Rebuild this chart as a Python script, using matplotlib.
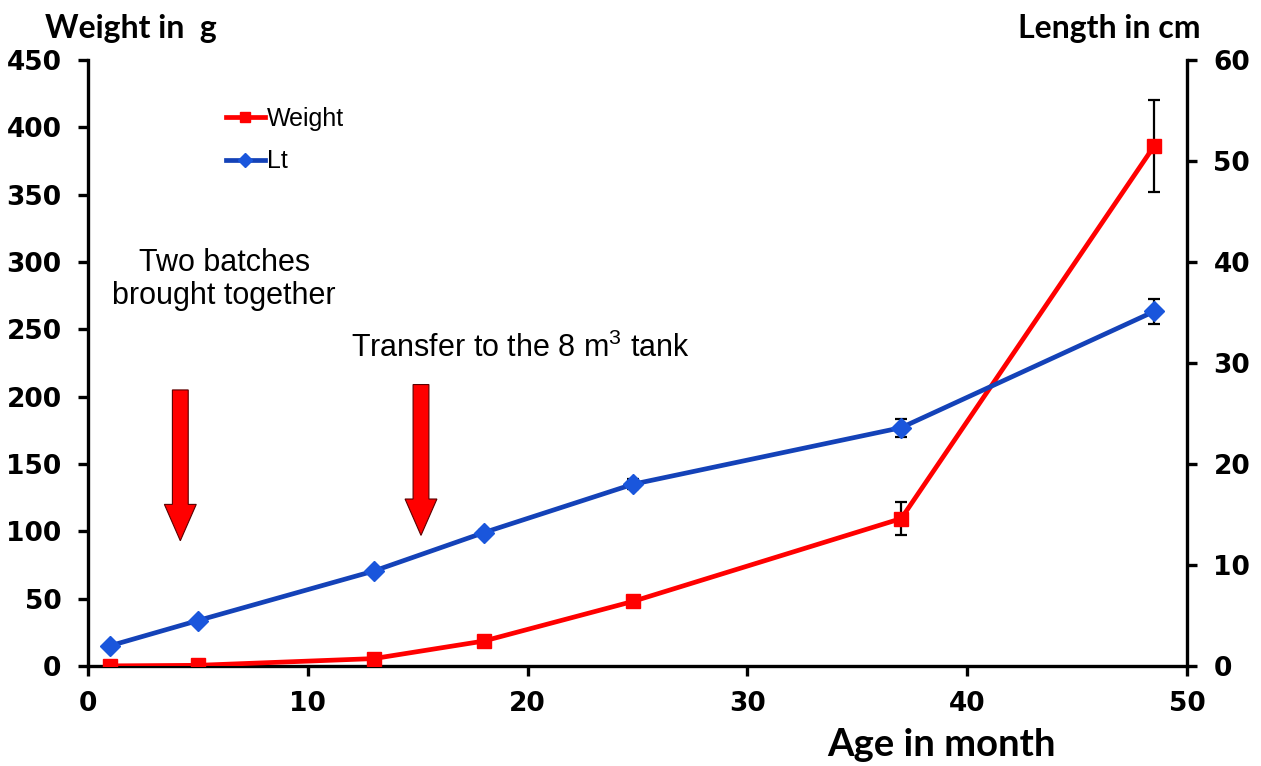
import numpy as np
import matplotlib
matplotlib.use("Agg")
import matplotlib.pyplot as plt
from matplotlib.lines import Line2D

# Data
age = [1, 5, 13, 18, 24.8, 37, 48.5]
weight = [0.1, 0.5, 5.5, 18.5, 48, 109.5, 386]
weight_err = [0, 0.3, 1, 1.5, 3, 12.5, 34]
length = [2.0, 4.5, 9.4, 13.2, 18.0, 23.6, 35.1]
length_err = [0, 0.1, 0.2, 0.3, 0.5, 0.9, 1.2]

x_ticks = [0, 10, 20, 30, 40, 50]
w_ticks = [0, 50, 100, 150, 200, 250, 300, 350, 400, 450]
l_ticks = [0, 10, 20, 30, 40, 50, 60]

arrow_x = [4.2, 15.15]
arrow_top = [205, 209]
arrow_tip = [93, 97]

plt.rcParams['font.family'] = ['Liberation Sans', 'DejaVu Sans']
plt.rcParams['mathtext.default'] = 'regular'

red = '#FF0000'
blue_line = '#1442B8'
blue_mark = '#1A56DC'

fig = plt.figure(figsize=(12.61, 7.66), dpi=100)
ax = fig.add_axes([88 / 1261, 100 / 766, (1187 - 88) / 1261, (666 - 60) / 766])
ax2 = ax.twinx()

# weight series on the left axis
ax.errorbar(age, weight, yerr=weight_err, color=red, lw=3.4, marker='s', ms=9.5,
            mfc=red, mec=red, ecolor='black', elinewidth=1.6, capsize=4.5,
            capthick=1.6, zorder=3)
# length series on the right axis
ax2.errorbar(age, length, yerr=length_err, color=blue_line, lw=3.4, marker='D', ms=10,
             mfc=blue_mark, mec=blue_mark, ecolor='black', elinewidth=1.6, capsize=4.5,
             capthick=1.6, zorder=3)

ax.set_xlim(0, 50)
ax.set_ylim(0, 450)
ax2.set_ylim(0, 60)
ax.set_xticks(x_ticks)
ax.set_yticks(w_ticks)
ax2.set_yticks(l_ticks)

for a in (ax, ax2):
    a.spines['top'].set_visible(False)
    for s in a.spines.values():
        s.set_linewidth(2.4)
    a.tick_params(width=2.4, length=7, labelsize=19, direction='out', pad=12)
    for lab in a.get_xticklabels() + a.get_yticklabels():
        lab.set_fontweight('bold')
        lab.set_family('DejaVu Sans')
ax2.spines['left'].set_visible(False)
ax2.spines['bottom'].set_visible(False)
ax.spines['right'].set_visible(False)
ax.tick_params(axis='x', pad=11)

# arrows
for xa, yt, yb in zip(arrow_x, arrow_top, arrow_tip):
    ax.arrow(xa, yt, 0, yb - yt, width=0.72, head_width=1.45, head_length=27,
             length_includes_head=True, fc=red, ec='#5a0000', lw=0.8, zorder=2)

ax.text(6.2, 287, "Two batches\nbrought together", ha='center', va='center',
        fontsize=22, linespacing=1.12)
ax.text(11.95, 236, "Transfer to the 8 m$^3$ tank", ha='left', va='center', fontsize=22)

# legend
handles = [Line2D([], [], color=red, lw=3.4, marker='s', ms=7, mfc=red, mec=red),
           Line2D([], [], color=blue_line, lw=3.4, marker='D', ms=7, mfc=blue_mark, mec=blue_mark)]
ax2.legend(handles, ['Weight', 'Lt'], loc='upper left', bbox_to_anchor=(0.105, 0.96),
           frameon=False, fontsize=18, handlelength=1.55, handletextpad=0.1,
           labelspacing=0.75)

fig.text(45 / 1261, 1 - 38 / 766, "Weight in  g", family=['Lato', 'DejaVu Sans'],
         fontweight='bold', fontsize=23, va='baseline', ha='left')
fig.text(1200 / 1261, 1 - 38 / 766, "Length in cm", family=['Lato', 'DejaVu Sans'],
         fontweight='bold', fontsize=23, va='baseline', ha='right')
fig.text(941 / 1261, 1 - 756 / 766, "Age in month", family=['Lato', 'DejaVu Sans'],
         fontweight='bold', fontsize=27.5, va='baseline', ha='center')

fig.savefig("out.png", dpi=100)
